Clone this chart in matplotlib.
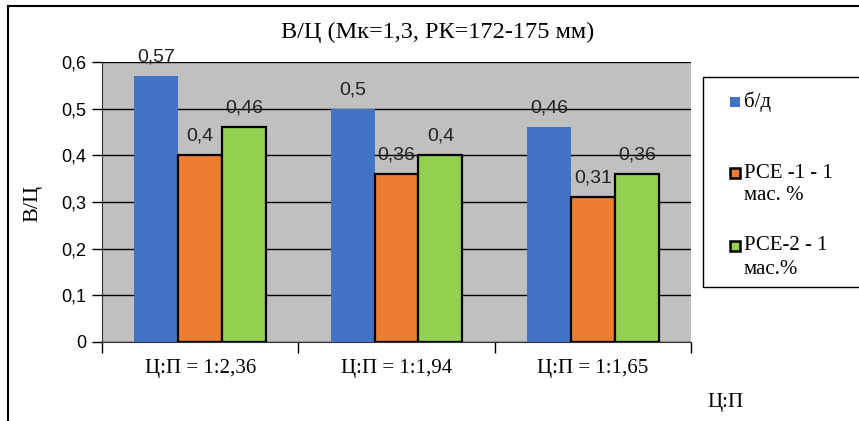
import numpy as np
import matplotlib.pyplot as plt
from matplotlib.patches import Rectangle
from matplotlib.lines import Line2D

# данные
groups = ['Ц:П = 1:2,36', 'Ц:П = 1:1,94', 'Ц:П = 1:1,65']
series = ['б/д', 'РСЕ -1 - 1\nмас. %', 'РСЕ-2 - 1\nмас.%']
bd = [0.57, 0.5, 0.46]
pce1 = [0.4, 0.36, 0.31]
pce2 = [0.46, 0.4, 0.36]
y_ticks = [0, 0.1, 0.2, 0.3, 0.4, 0.5, 0.6]

colors = ['#4472C4', '#ED7D31', '#92D050']
edges = ['none', 'black', 'black']
serif = 'Liberation Serif'
sans = 'Liberation Sans'

fig = plt.figure(figsize=(8.59, 4.21), dpi=100)
ax = fig.add_axes([102/859, 1-342/421, 589/859, 280/421])
ax.set_facecolor('#C0C0C0')

x = np.arange(len(groups))
w = 0.224
for k, (vals, c, ec) in enumerate(zip([bd, pce1, pce2], colors, edges)):
    pos = x + (k - 1) * w
    bars = ax.bar(pos, vals, width=w, color=c, edgecolor=ec,
                  linewidth=1.6 if ec != 'none' else 0, zorder=3)
    for b, v in zip(bars, vals):
        ax.annotate(f'{v:g}'.replace('.', ','),
                    (b.get_x() + b.get_width()/2, v),
                    xytext=(0, 7.5), textcoords='offset points',
                    ha='center', va='bottom', fontsize=14, family=sans,
                    color='#222222', zorder=4)

ax.set_xlim(-0.5, len(groups) - 0.5)
ax.set_ylim(0, 0.6)
ax.set_yticks(y_ticks)
ax.set_yticklabels([f'{t:g}'.replace('.', ',') for t in y_ticks],
                   fontsize=13, family=sans)
ax.yaxis.grid(True, color='black', linewidth=1, zorder=1)
ax.set_axisbelow(True)

# подписи категорий по центрам, засечки по границам групп
ax.set_xticks(x)
ax.set_xticklabels(groups, fontsize=15, family=serif)
ax.tick_params(axis='x', length=0, pad=12)
ax.set_xticks(np.arange(len(groups) + 1) - 0.5, minor=True)
ax.tick_params(axis='x', which='minor', length=8, width=1, direction='out')
ax.tick_params(axis='y', length=7, width=1, direction='out', pad=4)

for s in ['top', 'right']:
    ax.spines[s].set_visible(False)
ax.spines['left'].set_color('#333333')
ax.spines['bottom'].set_color('#333333')

fig.text(33/859, 1-203/421, 'В/Ц', fontsize=16, family=serif,
         rotation=90, ha='center', va='center')
fig.text(725/859, 1-402/421, 'Ц:П', fontsize=15, family=serif,
         ha='center', va='center')
fig.text(438/859, 1-32/421, 'В/Ц (Мк=1,3, РК=172-175 мм)', fontsize=17.5,
         family=serif, ha='center', va='center')

# легенда
fig.patches.append(Rectangle((703/859, 1-287/421), 170/859, 210/421,
                             transform=fig.transFigure, facecolor='white',
                             edgecolor='black', linewidth=1))
leg_y = [102, 173, 246]
for lab, c, ec, yy in zip(series, colors, edges, leg_y):
    fig.patches.append(Rectangle((730/859, 1-(yy+5)/421), 10/859, 10/421,
                                 transform=fig.transFigure, facecolor=c,
                                 edgecolor=ec, linewidth=1.8))
    for i, line in enumerate(lab.split('\n')):
        fig.text(744/859, 1-(yy + i*23)/421, line, fontsize=15, family=serif,
                 ha='left', va='center')

# рамка
fig.add_artist(Line2D([8/859, 8/859], [0, 1-6/421], color='black',
                      linewidth=1.5, transform=fig.transFigure))
fig.add_artist(Line2D([8/859, 1], [1-6/421, 1-6/421], color='black',
                      linewidth=1.5, transform=fig.transFigure))

fig.savefig('out.png', dpi=100)
